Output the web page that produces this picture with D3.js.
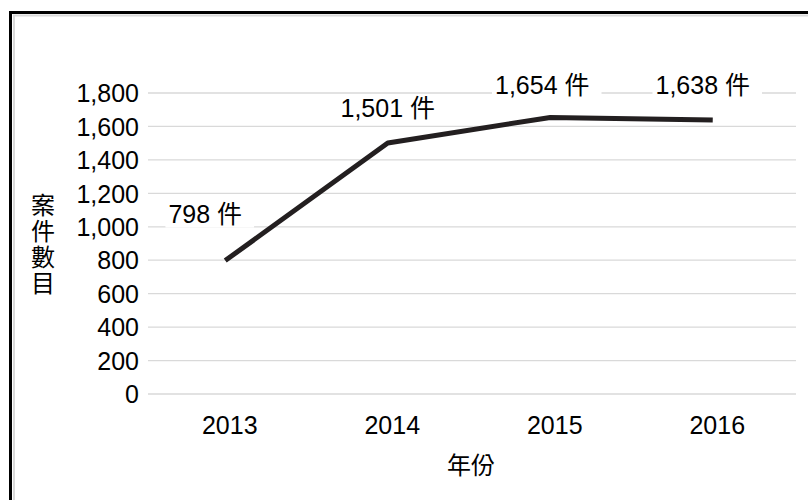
<!DOCTYPE html>
<html>
<head>
<meta charset="utf-8">
<script src="https://cdn.jsdelivr.net/npm/d3@7/dist/d3.min.js"></script>
<style>
  html, body { margin: 0; padding: 0; background: #fff; }
  svg { display: block; }
</style>
</head>
<body>
<svg id="chart" width="808" height="500"></svg>
<script>
// Cases per year
const years = ["2013", "2014", "2015", "2016"];
const cases = [798, 1501, 1654, 1638];
const yTicks = [0, 200, 400, 600, 800, 1000, 1200, 1400, 1600, 1800];
const yTitle = ["案", "件", "數", "目"];
const xTitle = "年份";
const unit = "件";

const FONT = "'Liberation Sans', Arial, 'Noto Sans CJK TC', sans-serif";
const svg = d3.select("#chart");

// frame: heavy black edge with a thin grey inner line (left and top)
svg.append("path").attr("d", "M10.5,500 V12.5 H808")
  .attr("fill", "none").attr("stroke", "#000").attr("stroke-width", 3);
svg.append("path").attr("d", "M14,500 V15.5 H808")
  .attr("fill", "none").attr("stroke", "#d9d9d9").attr("stroke-width", 2);

const x = d3.scalePoint().domain(years).range([146, 796]).padding(0.5);
const y = d3.scaleLinear().domain([0, 1800]).range([394, 93]);

// horizontal gridlines
svg.append("g").selectAll("line").data(yTicks).join("line")
  .attr("x1", 148).attr("x2", 796)
  .attr("y1", d => y(d)).attr("y2", d => y(d))
  .attr("stroke", "#d9d9d9").attr("stroke-width", 1.3);

// y axis labels
const yAxis = d3.axisLeft(y).tickValues(yTicks).tickFormat(d3.format(",")).tickSize(0).tickPadding(0);
const gy = svg.append("g").attr("transform", "translate(139,0)").call(yAxis);
gy.select(".domain").remove();
gy.selectAll("text").attr("font-family", FONT).attr("font-size", 25).attr("fill", "#000").attr("dy", "0.35em");

// x axis labels
const xAxis = d3.axisBottom(x).tickSize(0).tickPadding(0);
const gx = svg.append("g").attr("transform", "translate(2,0)").call(xAxis);
gx.select(".domain").remove();
gx.selectAll("text").attr("font-family", FONT).attr("font-size", 25).attr("fill", "#000")
  .attr("y", 425).attr("dy", "0.35em");

// axis titles
svg.append("text").attr("x", 471).attr("y", 466).attr("dy", "0.35em")
  .attr("text-anchor", "middle").attr("font-family", FONT).attr("font-size", 24)
  .attr("fill", "#000").text(xTitle);
svg.append("g").selectAll("text").data(yTitle).join("text")
  .attr("x", 43).attr("y", (d, i) => 206 + i * 26).attr("dy", "0.35em")
  .attr("text-anchor", "middle").attr("font-family", FONT).attr("font-size", 24)
  .attr("fill", "#000").text(d => d);

// series line
const pts = years.map((yr, i) => [x(yr) - 2, y(cases[i])]);
svg.append("path").datum(pts)
  .attr("d", d3.line())
  .attr("fill", "none").attr("stroke", "#231f20").attr("stroke-width", 5)
  .attr("stroke-linejoin", "round");

// value labels on white boxes, nudged off the line
const nudge = [[-20, -46], [0, -35], [-8, -32], [-10, -35]];
const lbl = svg.append("g");
pts.forEach((p, i) => {
  const g = lbl.append("g").attr("transform", `translate(${p[0] + nudge[i][0]},${p[1] + nudge[i][1]})`);
  const t = g.append("text").attr("text-anchor", "middle").attr("dy", "0.35em")
    .attr("font-family", FONT).attr("font-size", 25).attr("fill", "#000")
    .text(`${d3.format(",")(cases[i])} ${unit}`);
  const bb = t.node().getBBox();
  g.insert("rect", "text")
    .attr("x", bb.x - 3).attr("y", -14).attr("width", bb.width + 15).attr("height", 27)
    .attr("fill", "#fff");
});
</script>
</body>
</html>
